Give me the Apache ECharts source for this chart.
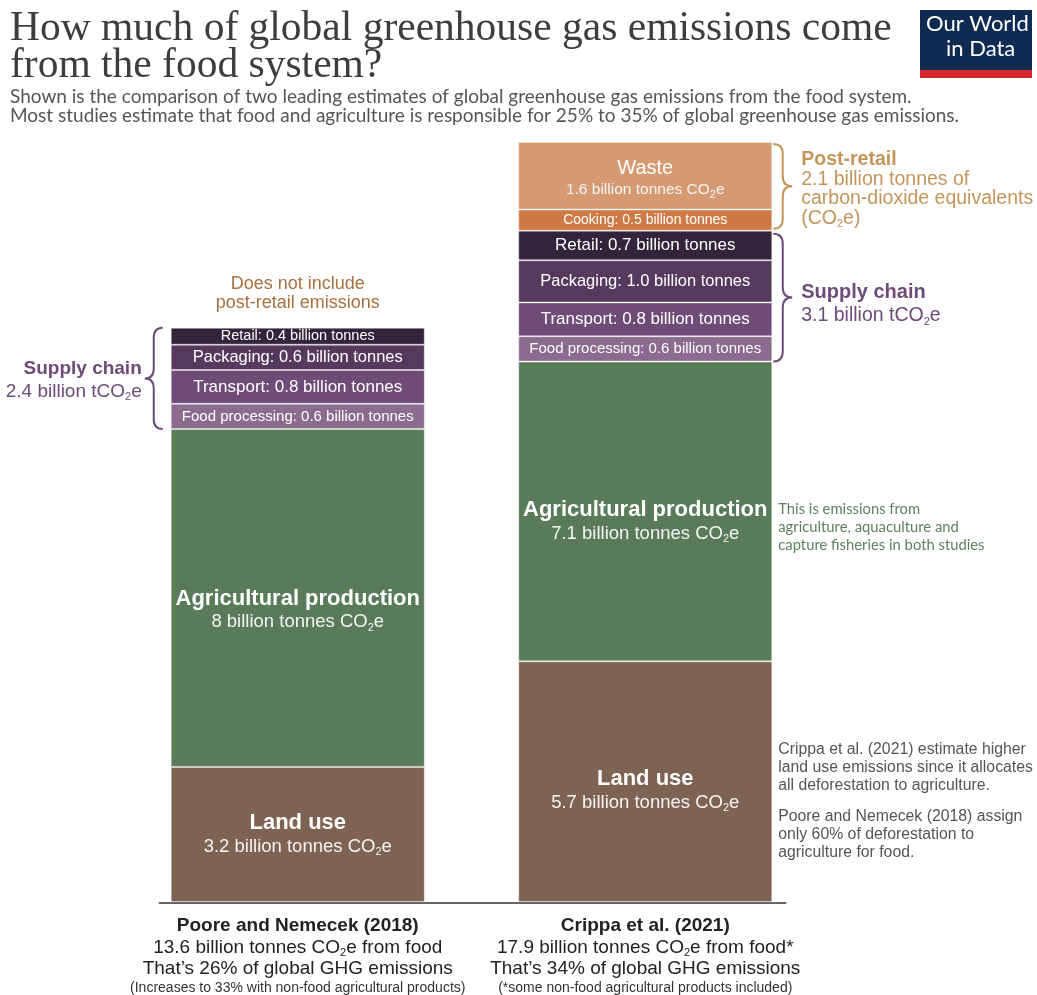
<!DOCTYPE html>
<html><head><meta charset="utf-8">
<script src="https://cdn.jsdelivr.net/npm/echarts@6/dist/echarts.min.js"></script>
<style>html,body{margin:0;padding:0;background:#fff}#c{width:1037px;height:995px}</style>
</head><body><div id="c"></div>
<script>
// ---- data ----
const studies = ['Poore and Nemecek (2018)', 'Crippa et al. (2021)'];
const totals = [13.6, 17.9];
const totalSuffix = ['', '*'];
const shares = [26, 34];
const notes = ['(Increases to 33% with non-food agricultural products)', '(*some non-food agricultural products included)'];
const landUse = [3.2, 5.7];
const agriProduction = [8, 7.1];
const foodProcessing = [0.6, 0.6];
const transport = [0.8, 0.8];
const packaging = [0.6, 1.0];
const retail = [0.4, 0.7];
const cooking = [null, 0.5];
const waste = [null, 1.6];
const supplyChainTotals = [2.4, 3.1];
const postRetailTotal = 2.1;

// ---- styling ----
const SANS = '"Liberation Sans", Arial, sans-serif';
const LATO = 'Lato, "Liberation Sans", sans-serif';
const BAR_W = 254;
const PURPLE = '#6e4a79';
const TAN = '#c4955a';
const SUB = { fontSize: 11, padding: [11, 0, 0, 0], lineHeight: 12 };

const chart = echarts.init(document.getElementById('c'), null, { renderer: 'canvas' });

function seg(name, data, color, formatter, opts) {
  opts = opts || {};
  return {
    name, type: 'bar', stack: 'total', barWidth: BAR_W,
    data: data.map((v, i) => {
      const lab = {};
      if (opts.sizes) lab.fontSize = opts.sizes[i];
      if (opts.offsets) lab.offset = [0, opts.offsets[i]];
      return { value: v, label: lab };
    }),
    itemStyle: { color, borderColor: 'rgba(255,255,255,0.35)', borderWidth: 1 },
    label: { show: true, position: 'inside', color: '#fff', fontFamily: SANS, fontSize: 16,
      formatter: p => (p.value == null ? '' : formatter(p.value, p.dataIndex)), rich: opts.rich },
    emphasis: { disabled: true }, silent: true
  };
}
const bigRich = (t, v, tw, tlh, vlh) => ({
  t: { fontSize: t, fontWeight: tw, color: '#fff', fontFamily: SANS, lineHeight: tlh },
  v: { fontSize: v, color: '#f4f4f4', fontFamily: SANS, lineHeight: vlh },
  sub: Object.assign({ color: '#f4f4f4', fontFamily: SANS }, SUB)
});

// brace path: x0 open side, dir -1 tip left / +1 tip right
function bracePath(x0, y1, y2, dir, w) {
  const xm = x0 + dir * w / 2, xt = x0 + dir * w, ym = (y1 + y2) / 2;
  const r = Math.min(10, (y2 - y1) / 4);
  return `M${x0},${y1} Q${xm},${y1} ${xm},${y1 + r} L${xm},${ym - r} Q${xm},${ym} ${xt},${ym} ` +
         `Q${xm},${ym} ${xm},${ym + r} L${xm},${y2 - r} Q${xm},${y2} ${x0},${y2}`;
}
function txt(x, y, text, o) {
  return { type: 'text', x, y, silent: true, style: {
    text, fill: o.color, fontSize: o.size, fontFamily: o.family || SANS, fontWeight: o.weight || 'normal',
    align: o.align || 'left', verticalAlign: 'middle', lineHeight: o.lh, rich: o.rich } };
}
const subRich = c => ({ sub: Object.assign({ fill: c, color: c }, SUB) });

const leftSupplyFrom = landUse[0] + agriProduction[0];
const leftSupplyTo = leftSupplyFrom + foodProcessing[0] + transport[0] + packaging[0] + retail[0];
const rightSupplyFrom = landUse[1] + agriProduction[1];
const rightSupplyTo = rightSupplyFrom + foodProcessing[1] + transport[1] + packaging[1] + retail[1];
const rightTop = rightSupplyTo + cooking[1] + waste[1];

const annotations = [
  // left supply chain brace
  api => {
    const c = api.coord([0, leftSupplyFrom]), t = api.coord([0, leftSupplyTo]);
    const x0 = c[0] - BAR_W / 2 - 8, mid = (c[1] + t[1]) / 2;
    return [
      { type: 'path', shape: { pathData: bracePath(x0, t[1], c[1], -1, 18) }, style: { stroke: PURPLE, lineWidth: 2, fill: null } },
      txt(x0 - 21, mid - 10, 'Supply chain', { color: PURPLE, size: 19, weight: 'bold', align: 'right' }),
      txt(x0 - 21, mid + 13, `${supplyChainTotals[0]} billion tCO{sub|2}e`, { color: PURPLE, size: 19, align: 'right', rich: subRich(PURPLE) })
    ];
  },
  // does not include
  api => {
    const t = api.coord([0, leftSupplyTo]);
    return [txt(t[0], t[1] - 34, 'Does not include\npost-retail emissions', { color: '#a8703f', size: 18, align: 'center', lh: 19 })];
  },
  // right supply chain brace
  api => {
    const c = api.coord([1, rightSupplyFrom]), t = api.coord([1, rightSupplyTo]);
    const x0 = c[0] + BAR_W / 2 + 1, mid = (c[1] + t[1]) / 2;
    return [
      { type: 'path', shape: { pathData: bracePath(x0, t[1] + 3, c[1], 1, 19) }, style: { stroke: PURPLE, lineWidth: 2, fill: null } },
      txt(x0 + 28, mid - 4, 'Supply chain', { color: PURPLE, size: 20, weight: 'bold' }),
      txt(x0 + 28, mid + 20, `${supplyChainTotals[1]} billion tCO{sub|2}e`, { color: PURPLE, size: 19.5, rich: subRich(PURPLE) })
    ];
  },
  // post-retail brace
  api => {
    const c = api.coord([1, rightSupplyTo]), t = api.coord([1, rightTop]);
    const x0 = c[0] + BAR_W / 2 + 1, mid = (c[1] + t[1]) / 2;
    return [
      { type: 'path', shape: { pathData: bracePath(x0, t[1] + 2, c[1] - 2, 1, 19) }, style: { stroke: TAN, lineWidth: 2, fill: null } },
      txt(x0 + 28, mid - 27, 'Post-retail', { color: TAN, size: 19.5, weight: 'bold' }),
      txt(x0 + 28, mid - 7, `${postRetailTotal} billion tonnes of`, { color: TAN, size: 19.5 }),
      txt(x0 + 28, mid + 12, 'carbon-dioxide equivalents', { color: TAN, size: 19.5 }),
      txt(x0 + 28, mid + 32, '(CO{sub|2}e)', { color: TAN, size: 19.5, rich: subRich(TAN) })
    ];
  },
  // agri note
  api => {
    const b = api.coord([1, landUse[1]]), t = api.coord([1, rightSupplyFrom]);
    const x = b[0] + BAR_W / 2 + 6, mid = (b[1] + t[1]) / 2 + 16;
    return [txt(x, mid, 'This is emissions from\nagriculture, aquaculture and\ncapture fisheries in both studies', { color: '#5e825e', size: 14.8, family: LATO, lh: 18 })];
  },
  // land use note
  api => {
    const b = api.coord([1, 0]), t = api.coord([1, landUse[1]]);
    const x = b[0] + BAR_W / 2 + 6, mid = (b[1] + t[1]) / 2;
    return [
      txt(x, mid - 14, 'Crippa et al. (2021) estimate higher\nland use emissions since it allocates\nall deforestation to agriculture.', { color: '#555', size: 15.8, lh: 18 }),
      txt(x, mid + 53, 'Poore and Nemecek (2018) assign\nonly 60% of deforestation to\nagriculture for food.', { color: '#555', size: 15.8, lh: 18 })
    ];
  },
  // baseline
  api => {
    const a = api.coord([0, 0]), b = api.coord([1, 0]);
    return [{ type: 'line', shape: { x1: a[0] - BAR_W / 2 - 12, y1: a[1] + 1, x2: b[0] + BAR_W / 2 + 14, y2: a[1] + 1 }, style: { stroke: '#666', lineWidth: 2 } }];
  }
];

const option = {
  animation: false,
  backgroundColor: '#fff',
  title: [
    { text: 'How much of global greenhouse gas emissions come\nfrom the food system?', left: 10, top: 11, padding: 0,
      textStyle: { fontFamily: '"Liberation Serif", serif', fontSize: 41.5, fontWeight: 'normal', color: '#3d3d3d', lineHeight: 37 } },
    { text: 'Shown is the comparison of two leading estimates of global greenhouse gas emissions from the food system.\nMost studies estimate that food and agriculture is responsible for 25% to 35% of global greenhouse gas emissions.',
      left: 10, top: 87, padding: 0, textStyle: { fontFamily: LATO, fontSize: 19, fontWeight: 'normal', color: '#555', lineHeight: 19.5 } }
  ],
  grid: { left: 124, right: 218, top: 142, bottom: 92, containLabel: false },
  xAxis: {
    type: 'category', data: studies,
    axisLine: { show: false }, axisTick: { show: false },
    axisLabel: {
      interval: 0, margin: 13, color: '#222', fontFamily: SANS,
      formatter: (v, i) => [
        `{b|${studies[i]}}`,
        `{n|${totals[i]} billion tonnes CO}{sub|2}{n|e from food${totalSuffix[i]}}`,
        `{n|That’s ${shares[i]}% of global GHG emissions}`,
        `{s|${notes[i]}}`].join('\n'),
      rich: {
        b: { fontSize: 19, fontWeight: 'bold', color: '#222', fontFamily: SANS, lineHeight: 22 },
        n: { fontSize: 19, color: '#222', fontFamily: SANS, lineHeight: 21 },
        s: { fontSize: 14, color: '#333', fontFamily: SANS, lineHeight: 18 },
        sub: Object.assign({ color: '#222', fontFamily: SANS }, SUB)
      }
    }
  },
  yAxis: { type: 'value', min: 0, max: 18, show: false },
  series: [
    seg('Land use', landUse, '#7e6252', v => `{t|Land use}\n{v|${v} billion tonnes CO}{sub|2}{v|e}`, { rich: bigRich(22, 18.5, 'bold', 24, 23), offsets: [0, 9] }),
    seg('Agricultural production', agriProduction, '#597b5a', v => `{t|Agricultural production}\n{v|${v} billion tonnes CO}{sub|2}{v|e}`, { rich: bigRich(22, 18.5, 'bold', 24, 23), offsets: [12, 10] }),
    seg('Food processing', foodProcessing, '#8b6c8f', v => `Food processing: ${v.toFixed(1)} billion tonnes`, { sizes: [15, 15] }),
    seg('Transport', transport, '#6f4b77', v => `Transport: ${v.toFixed(1)} billion tonnes`, { sizes: [17, 17] }),
    seg('Packaging', packaging, '#563a5e', v => `Packaging: ${v.toFixed(1)} billion tonnes`, { sizes: [16.5, 16.5] }),
    seg('Retail', retail, '#33233b', v => `Retail: ${v.toFixed(1)} billion tonnes`, { sizes: [14.5, 17] }),
    seg('Cooking', cooking, '#cf7a45', v => `Cooking: ${v.toFixed(1)} billion tonnes`, { sizes: [14, 14] }),
    seg('Waste', waste, '#d69a73', v => `{t|Waste}\n{v|${v} billion tonnes CO}{sub|2}{v|e}`, { rich: bigRich(20, 15.5, 'normal', 22, 20), offsets: [0, 3] }),
    {
      type: 'custom', name: 'annotations', silent: true, clip: false, z: 10,
      data: annotations.map(() => [0, 0]),
      encode: { x: 0, y: 1 },
      renderItem: (params, api) => ({ type: 'group', children: annotations[params.dataIndex](api) })
    }
  ],
  graphic: [
    { type: 'rect', left: 920, top: 10, shape: { width: 112, height: 68 }, style: { fill: '#0f2b52' } },
    { type: 'rect', left: 920, top: 70, shape: { width: 112, height: 8 }, style: { fill: '#d3272a' } },
    { type: 'text', left: 926, top: 13, style: { text: 'Our World', fill: '#fff', font: '22px Lato, sans-serif' } },
    { type: 'text', left: 946, top: 38, style: { text: 'in Data', fill: '#fff', font: '22px Lato, sans-serif' } }
  ]
};
chart.setOption(option);
</script>
</body></html>
